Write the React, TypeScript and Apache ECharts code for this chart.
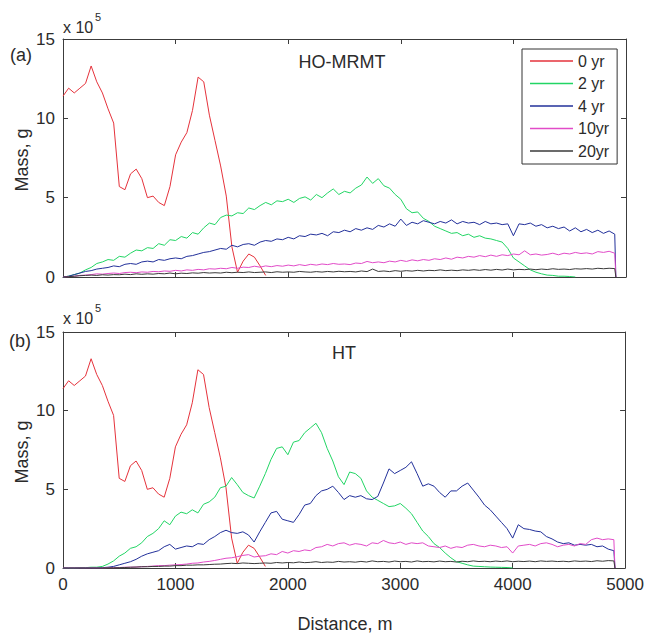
import React, { useEffect, useRef } from "react";
import * as echarts from "echarts";

// Distance grid (m): every 50 m to 4900, then the end of the domain
const DIST: number[] = Array.from({ length: 99 }, (_, i) => i * 50).concat([4910]);

const NAMES = ["0 yr", "2 yr", "4 yr", "10yr", "20yr"];
const COLORS = ["#e5323b", "#22d564", "#22309a", "#e14bc8", "#3a3a3a"];

const X_TICKS = [0, 1000, 2000, 3000, 4000, 5000];
const Y_TICKS = [0, 5, 10, 15];

// Mass (x 10^5 g), same initial plume in both panels
const R0 = [11.4, 11.9, 11.6, 11.9, 12.2, 13.3, 12.3, 11.6, 10.6, 9.7, 5.7, 5.5, 6.5, 6.8, 6.2, 5.0, 5.1, 4.7, 4.5, 5.7, 7.7, 8.5, 9.1, 10.5, 12.6, 12.3, 10.2, 8.6, 7.0, 5.1, 1.9, 0.3, 1.0, 1.45, 1.25, 0.7, 0.1];

// (a) HO-MRMT
const G2A = [0, 0.05, 0.15, 0.25, 0.45, 0.6, 0.85, 0.95, 1.1, 1.05,
  1.3, 1.25, 1.5, 1.7, 1.65, 1.85, 1.8, 2.1, 2.0, 2.35,
  2.3, 2.55, 2.45, 2.8, 2.7, 3.1, 3.4, 3.3, 3.75, 3.9,
  3.85, 4.05, 4.0, 4.35, 4.25, 4.5, 4.7, 4.55, 4.8, 4.75,
  4.9, 4.7, 4.95, 5.05, 4.85, 5.2, 5.0, 5.3, 5.55, 5.2,
  5.4, 5.3, 5.6, 5.8, 6.3, 5.9, 6.2, 5.75, 5.6, 5.2,
  4.9, 4.3, 4.05, 4.1, 3.7, 3.5, 3.2, 3.05, 2.9, 2.75,
  2.8, 2.6, 2.7, 2.5, 2.6, 2.45, 2.4, 2.3, 2.2, 1.8,
  1.2, 0.95, 0.7, 0.45, 0.3, 0.2, 0.12, 0.1, 0.05, 0.05,
  0.03, 0.0];
const B4A = [0, 0.05, 0.15, 0.25, 0.35, 0.4, 0.5, 0.55, 0.6, 0.7,
  0.65, 0.8, 0.85, 0.8, 0.95, 1.0, 0.95, 1.1, 1.05, 1.15,
  1.2, 1.15, 1.3, 1.35, 1.45, 1.55, 1.6, 1.7, 1.8, 1.75,
  2.0, 1.9, 2.05, 2.1, 2.0, 2.2, 2.3, 2.25, 2.4, 2.35,
  2.5, 2.4, 2.6, 2.55, 2.7, 2.65, 2.75, 2.6, 2.85, 2.8,
  2.95, 2.85, 3.05, 2.95, 3.1, 3.0, 3.25, 3.15, 3.35, 3.2,
  3.65, 3.25, 3.45, 3.35, 3.55, 3.45, 3.35, 3.5, 3.4, 3.6,
  3.35, 3.5, 3.4, 3.45, 3.3, 3.5, 3.35, 3.4, 3.3, 3.35,
  2.6, 3.35, 3.3, 3.4, 3.2, 3.3, 3.1, 3.2, 3.05, 3.15,
  2.9, 3.1, 2.85, 3.0, 2.8, 2.95, 2.75, 2.9, 2.7, 0];
const M10A = [0, 0.02, 0.05, 0.1, 0.12, 0.15, 0.2, 0.18, 0.22, 0.25,
  0.22, 0.28, 0.3, 0.27, 0.32, 0.3, 0.35, 0.33, 0.38, 0.36,
  0.42, 0.38, 0.45, 0.42, 0.48, 0.45, 0.52, 0.5, 0.55, 0.52,
  0.6, 0.55, 0.62, 0.6, 0.68, 0.62, 0.7, 0.65, 0.72, 0.68,
  0.75, 0.7, 0.78, 0.72, 0.8, 0.75, 0.82, 0.78, 0.85, 0.8,
  0.82, 0.78, 0.88, 0.85, 0.98, 0.9, 0.95, 0.9, 1.0, 0.95,
  1.05, 0.98, 1.08, 1.02, 1.1, 1.05, 1.15, 1.1, 1.2, 1.12,
  1.25, 1.2, 1.3, 1.25, 1.35, 1.28, 1.38, 1.3, 1.4, 1.35,
  1.45, 1.4, 1.65, 1.4, 1.45, 1.38, 1.42, 1.5, 1.4, 1.5,
  1.45, 1.55, 1.48, 1.52, 1.45, 1.6, 1.55, 1.62, 1.5, 0];
const K20A = [0, 0.02, 0.05, 0.08, 0.1, 0.12, 0.1, 0.14, 0.12, 0.15,
  0.14, 0.18, 0.15, 0.2, 0.17, 0.2, 0.18, 0.22, 0.2, 0.25,
  0.2, 0.24, 0.22, 0.26, 0.24, 0.28, 0.25, 0.27, 0.25, 0.3,
  0.27, 0.3, 0.28, 0.32, 0.28, 0.3, 0.32, 0.28, 0.33, 0.3,
  0.32, 0.3, 0.35, 0.32, 0.3, 0.34, 0.31, 0.35, 0.32, 0.36,
  0.33, 0.35, 0.32, 0.38, 0.34, 0.5, 0.35, 0.38, 0.34, 0.4,
  0.36, 0.4, 0.37, 0.42, 0.38, 0.42, 0.4, 0.45, 0.4, 0.43,
  0.4, 0.45, 0.42, 0.46, 0.42, 0.47, 0.43, 0.48, 0.44, 0.5,
  0.45, 0.48, 0.46, 0.5, 0.46, 0.5, 0.47, 0.52, 0.48, 0.5,
  0.47, 0.52, 0.5, 0.53, 0.5, 0.55, 0.52, 0.55, 0.53, 0];

// (b) HT
const G2B = [0, 0, 0, 0.02, 0.02, 0.05, 0.05, 0.1, 0.25, 0.45,
  0.75, 0.95, 1.25, 1.35, 1.6, 2.0, 2.2, 2.5, 3.0, 2.75,
  3.3, 3.55, 3.45, 3.7, 3.5, 4.05, 4.2, 4.5, 5.1, 5.2,
  5.75, 5.3, 4.8, 4.6, 4.45, 5.2, 6.0, 6.9, 7.6, 7.7,
  7.2, 8.0, 8.1, 8.6, 8.9, 9.2, 8.6, 7.6, 6.8, 5.8,
  5.3, 6.1, 6.0, 5.7, 4.9, 4.5, 4.3, 4.1, 3.9, 3.95,
  4.1, 3.8, 3.45, 2.9, 2.35, 2.0, 1.55, 1.3, 0.95, 0.65,
  0.4, 0.3, 0.2, 0.12, 0.1, 0.08, 0.06, 0.05, 0.04, 0.03,
  0];
const B4B = [0, 0, 0, 0, 0, 0, 0, 0.02, 0.05, 0.1,
  0.2, 0.3, 0.4, 0.55, 0.75, 0.9, 1.0, 1.1, 1.35, 1.5,
  1.2, 1.3, 1.4, 1.35, 1.55, 1.5, 1.8, 2.0, 2.25, 2.4,
  2.25, 2.2, 2.3, 2.1, 1.65, 2.3, 2.9, 3.5, 3.6, 3.1,
  3.0, 2.9, 3.4, 4.0, 4.1, 4.6, 4.9, 5.0, 5.2, 4.8,
  4.35, 4.6, 4.5, 4.6, 4.4, 4.35, 4.55, 5.4, 6.3, 6.0,
  6.2, 6.4, 6.75, 6.0, 5.2, 5.35, 5.2, 4.8, 4.5, 4.9,
  4.9, 5.2, 5.4, 4.95, 4.5, 4.0, 3.7, 3.3, 2.9, 2.5,
  1.9, 2.75, 2.5, 2.45, 2.35, 2.3, 2.0, 1.85, 1.65, 1.55,
  1.6, 1.45, 1.5, 1.45, 1.5, 1.35, 1.4, 1.2, 1.1, 0];
const M10B = [0, 0, 0, 0, 0, 0, 0, 0, 0.02, 0.02,
  0.03, 0.05, 0.05, 0.06, 0.08, 0.1, 0.12, 0.15, 0.15, 0.18,
  0.2, 0.22, 0.25, 0.3, 0.32, 0.38, 0.42, 0.48, 0.55, 0.62,
  0.65, 0.72, 0.8, 0.85, 0.7, 0.75, 0.78, 0.9, 0.85, 1.05,
  0.95, 1.1, 1.05, 1.15, 1.1, 1.3, 1.35, 1.5, 1.4, 1.55,
  1.6, 1.45, 1.55, 1.5, 1.4, 1.6, 1.55, 1.75, 1.6, 1.55,
  1.65, 1.5, 1.6, 1.55, 1.6, 1.4, 1.35, 1.3, 1.4, 1.25,
  1.35, 1.3, 1.45, 1.5, 1.4, 1.35, 1.45, 1.4, 1.3, 1.35,
  0.95, 1.4, 1.45, 1.5, 1.4, 1.55, 1.6, 1.5, 1.35, 1.45,
  1.5, 1.4, 1.55, 1.5, 1.8, 1.9, 1.8, 1.85, 1.8, 0];
const K20B = [0, 0, 0, 0, 0, 0, 0, 0, 0.01, 0.01,
  0.02, 0.03, 0.05, 0.06, 0.08, 0.08, 0.1, 0.1, 0.12, 0.12,
  0.15, 0.15, 0.18, 0.18, 0.2, 0.2, 0.22, 0.24, 0.25, 0.28,
  0.3, 0.28, 0.32, 0.3, 0.28, 0.3, 0.32, 0.3, 0.35, 0.32,
  0.35, 0.33, 0.38, 0.34, 0.36, 0.4, 0.35, 0.38, 0.36, 0.42,
  0.38, 0.4, 0.37, 0.42, 0.38, 0.45, 0.4, 0.42, 0.38, 0.44,
  0.4, 0.42, 0.38, 0.45, 0.4, 0.42, 0.39, 0.44, 0.4, 0.42,
  0.38, 0.43, 0.4, 0.45, 0.41, 0.43, 0.4, 0.44, 0.41, 0.45,
  0.4, 0.43, 0.41, 0.44, 0.4, 0.45, 0.42, 0.44, 0.41, 0.43,
  0.4, 0.45, 0.42, 0.44, 0.41, 0.46, 0.43, 0.47, 0.45, 0];

const PANEL_A = [R0, G2A, B4A, M10A, K20A];
const PANEL_B = [R0, G2B, B4B, M10B, K20B];

const FONT = "'Liberation Sans', Arial, sans-serif";
const TXT = "#2b2b2b";
const AX = "#3c3c3c";

function pairs(vals: number[]) {
  return vals.map((v, i) => [DIST[i], v]);
}

function xAxis(grid: number, pos: "bottom" | "top", labels: boolean) {
  return {
    type: "value",
    gridIndex: grid,
    position: pos,
    min: 0,
    max: 5000,
    interval: 1000,
    axisLine: { show: true, onZero: false, lineStyle: { color: AX, width: 1 } },
    axisTick: { show: true, inside: true, length: 5, lineStyle: { color: AX } },
    axisLabel: {
      show: labels,
      margin: 8,
      fontSize: 17,
      fontFamily: FONT,
      color: TXT,
      formatter: (v: number) => (X_TICKS.includes(v) ? String(v) : ""),
    },
    splitLine: { show: false },
  };
}

function yAxis(grid: number, pos: "left" | "right", labels: boolean) {
  return {
    type: "value",
    gridIndex: grid,
    position: pos,
    min: 0,
    max: 15,
    interval: 5,
    axisLine: { show: true, onZero: false, lineStyle: { color: AX, width: 1 } },
    axisTick: { show: true, inside: true, length: 5, lineStyle: { color: AX } },
    axisLabel: {
      show: labels,
      margin: 8,
      fontSize: 17,
      fontFamily: FONT,
      color: TXT,
      formatter: (v: number) => (Y_TICKS.includes(v) ? String(v) : ""),
    },
    splitLine: { show: false },
  };
}

export default function App() {
  const ref = useRef<HTMLDivElement>(null);

  useEffect(() => {
    if (!ref.current) return;
    const chart = echarts.init(ref.current, null, { renderer: "svg" });

    const series: any[] = [];
    [PANEL_A, PANEL_B].forEach((panel, p) => {
      panel.forEach((vals, k) => {
        series.push({
          type: "line",
          name: NAMES[k],
          xAxisIndex: p * 2,
          yAxisIndex: p * 2,
          data: pairs(vals),
          symbol: "none",
          showSymbol: false,
          lineStyle: { color: COLORS[k], width: 1 },
          itemStyle: { color: COLORS[k] },
          z: 2 + k,
        });
      });
    });

    const text = (x: number, y: number, t: string, size: number, extra: any = {}) => ({
      type: "text",
      x,
      y,
      style: {
        text: t,
        fontSize: size,
        fontFamily: FONT,
        fill: TXT,
        align: "center",
        verticalAlign: "middle",
        ...extra,
      },
    });

    chart.setOption({
      animation: false,
      backgroundColor: "#ffffff",
      grid: [
        { left: 63, top: 39, width: 563, height: 238 },
        { left: 63, top: 332, width: 563, height: 236 },
      ],
      xAxis: [
        xAxis(0, "bottom", false),
        xAxis(0, "top", false),
        xAxis(1, "bottom", true),
        xAxis(1, "top", false),
      ],
      yAxis: [
        yAxis(0, "left", true),
        yAxis(0, "right", false),
        yAxis(1, "left", true),
        yAxis(1, "right", false),
      ],
      legend: {
        data: NAMES,
        orient: "vertical",
        left: 522,
        top: 49,
        padding: [4, 8, 5, 8],
        itemWidth: 43,
        itemHeight: 1.5,
        itemGap: 6.5,
        icon: "rect",
        borderColor: "#333",
        borderWidth: 1,
        backgroundColor: "#ffffff",
        textStyle: { fontSize: 16, lineHeight: 16, fontFamily: FONT, color: TXT },
      },
      graphic: [
        text(21, 55, "(a)", 18),
        text(20, 341, "(b)", 18),
        text(63, 27, "x 10", 16, { align: "left" }),
        text(95, 17, "5", 11, { align: "left" }),
        text(63, 318, "x 10", 16, { align: "left" }),
        text(95, 308, "5", 11, { align: "left" }),
        text(342, 62, "HO-MRMT", 18),
        text(344, 353, "HT", 18),
        { ...text(22, 160, "Mass, g", 18), rotation: Math.PI / 2 },
        { ...text(22, 452, "Mass, g", 18), rotation: Math.PI / 2 },
        text(345, 624, "Distance, m", 18),
      ],
      series,
    });

    return () => chart.dispose();
  }, []);

  return (
    <div
      ref={ref}
      style={{ position: "fixed", left: 0, top: 0, width: 647, height: 634, background: "#fff" }}
    />
  );
}
